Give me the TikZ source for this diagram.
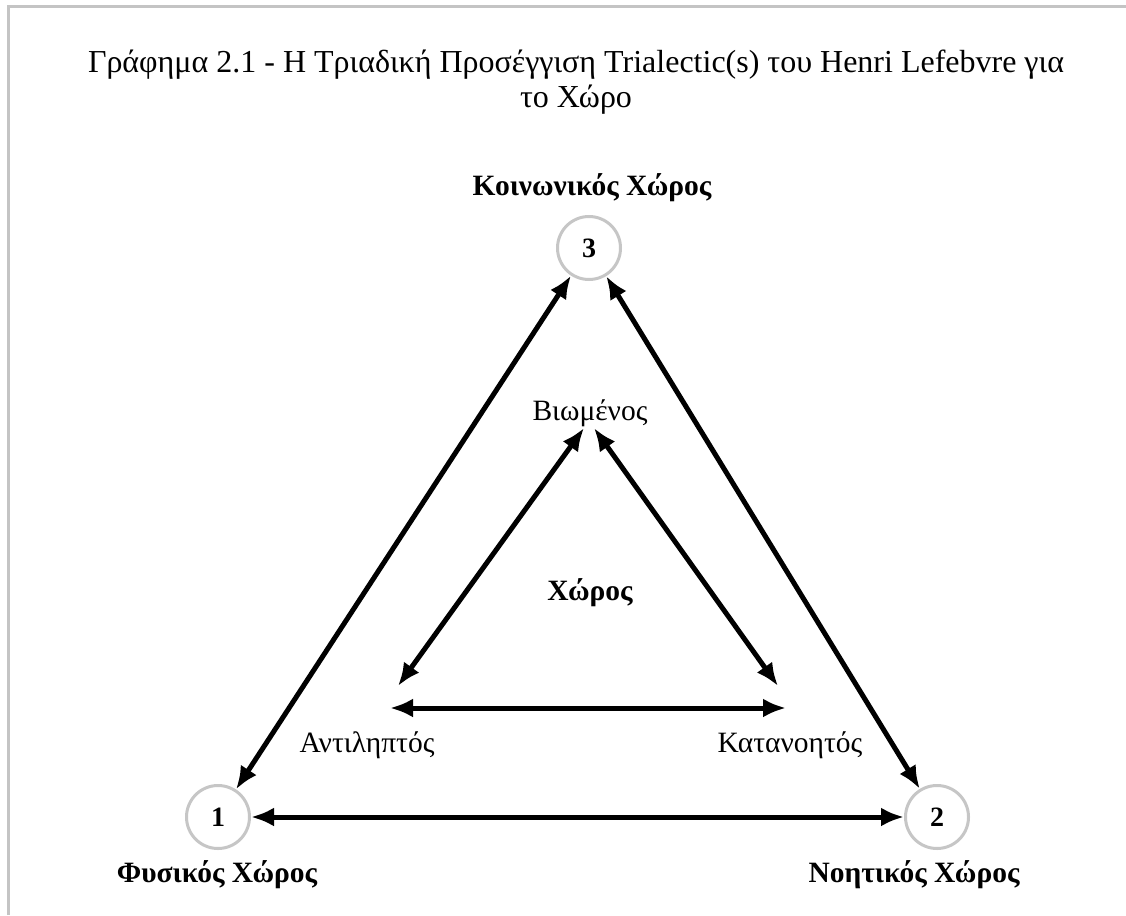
\documentclass[tikz,border=0pt]{standalone}
\usepackage{fontspec}
\setmainfont{Liberation Serif}
\usetikzlibrary{arrows.meta}
\definecolor{framegray}{HTML}{C4C4C4}
\definecolor{ringgray}{HTML}{C6C6C6}
\begin{document}
\begin{tikzpicture}[x=1pt,y=-1pt,
  frameline/.style={draw=framegray,line width=3pt},
  spot/.style={circle,draw=ringgray,line width=3pt,minimum size=63pt,inner sep=0pt,
    font=\fontsize{28}{30}\selectfont\bfseries},
  link/.style={line width=5pt,{Latex[length=23pt,width=19pt]}-{Latex[length=23pt,width=19pt]}},
  titletext/.style={anchor=base,inner sep=0pt,font=\fontsize{32}{36}\selectfont},
  corner/.style={anchor=base,inner sep=0pt,font=\fontsize{29.5}{32}\selectfont\bfseries},
  mode/.style={anchor=base,inner sep=0pt,font=\fontsize{29.5}{32}\selectfont},
]
\useasboundingbox (0,0) rectangle (1126,915);
\fill[white] (0,0) rectangle (1126,915);

% outer frame (left and top edges)
\draw[frameline] (8,915) -- (8,7) -- (1126,7);

% heading
\node[titletext] (title1) at (576,73) {Γράφημα 2.1 - Η Τριαδική Προσέγγιση Trialectic(s) του Henri Lefebvre για};
\node[titletext] (title2) at (576,108) {το Χώρο};

% the three spaces
\node[spot] (n3) at (589,248) {3};
\node[spot] (n1) at (218,817) {1};
\node[spot] (n2) at (937,817) {2};

\node[corner] (l3) at (592,195) {Κοινωνικός Χώρος};
\node[corner] (l1) at (217,882) {Φυσικός Χώρος};
\node[corner] (l2) at (914,882) {Νοητικός Χώρος};

\draw[link] (n1) -- (n3);
\draw[link] (n2) -- (n3);
\draw[link] (n1) -- (n2);

% inner triad
\node[mode] (lived) at (590,420) {Βιωμένος};
\node[mode] (perc) at (367,752) {Αντιληπτός};
\node[mode] (conc) at (790,752) {Κατανοητός};
\node[corner] (space) at (590,600) {Χώρος};

\coordinate (tl) at (584,428);
\coordinate (tr) at (594,428);
\coordinate (bl) at (398,686);
\coordinate (br) at (778,686);
\coordinate (hl) at (390,708);
\coordinate (hr) at (786,708);

\draw[link] (tl) -- (bl);
\draw[link] (tr) -- (br);
\draw[link] (hl) -- (hr);
\end{tikzpicture}
\end{document}
